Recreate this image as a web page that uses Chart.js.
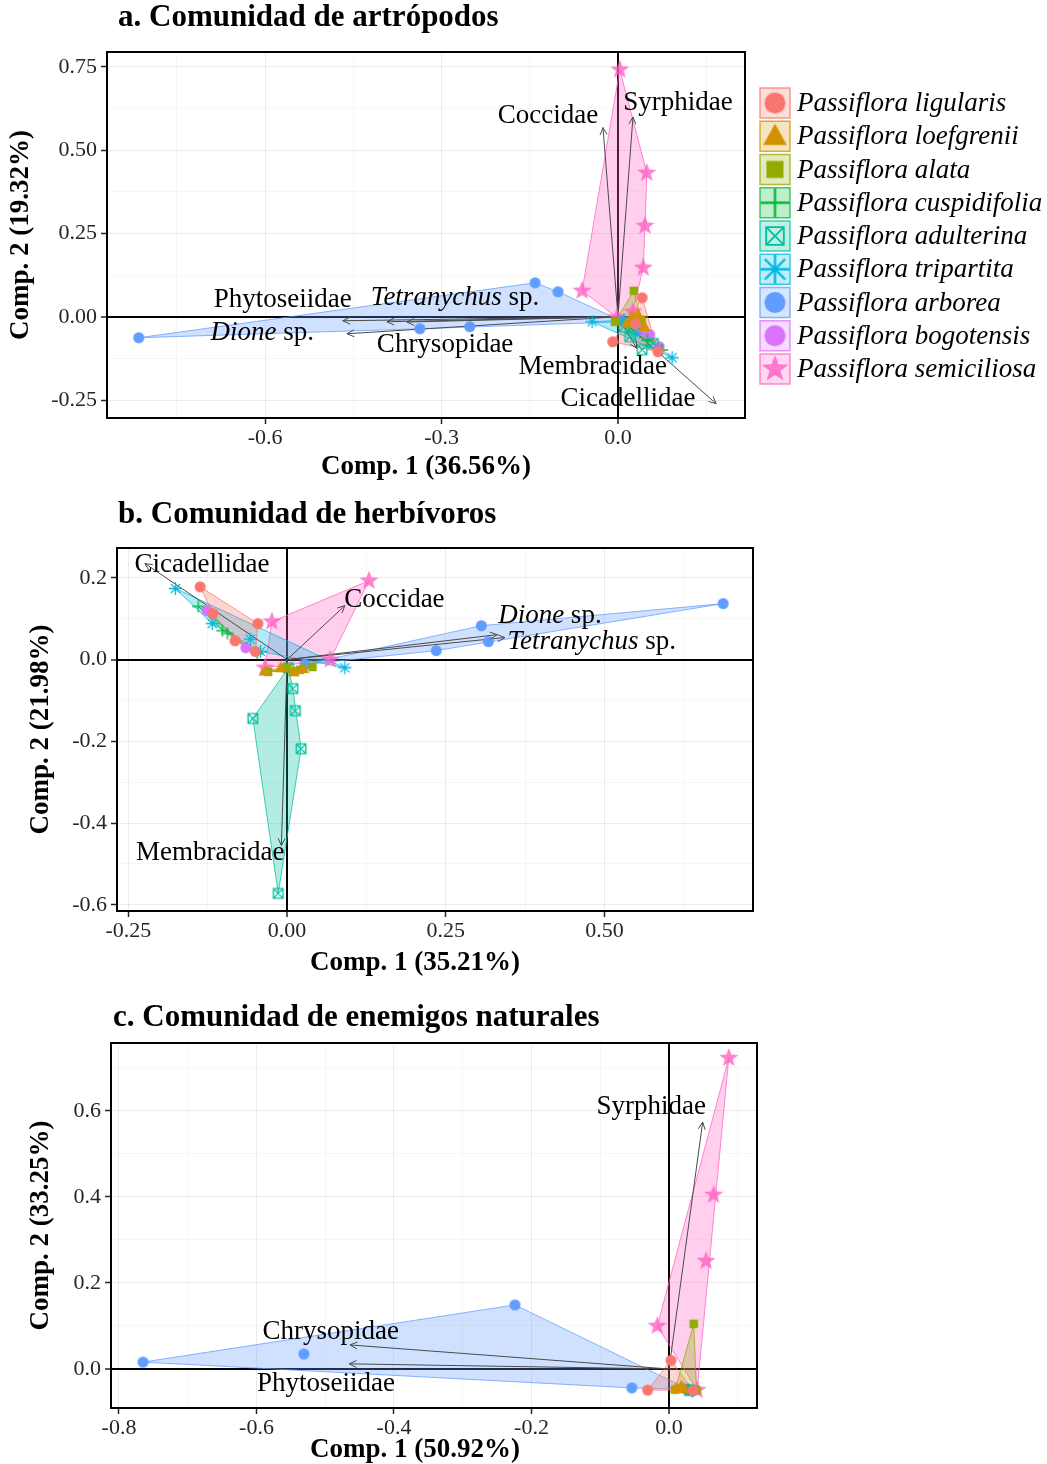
<!DOCTYPE html>
<html><head><meta charset="utf-8">
<script src="https://cdn.jsdelivr.net/npm/chart.js@4.4.1/dist/chart.umd.min.js"></script>
<style>
html,body{margin:0;padding:0;background:#fff;}
#wrap{position:relative;width:1047px;height:1464px;background:#fff;}
canvas{position:absolute;left:0;}
</style></head><body>
<div id="wrap">
<canvas id="ca" width="1047" height="490" style="top:0"></canvas>
<canvas id="cb" width="1047" height="490" style="top:490px"></canvas>
<canvas id="cc" width="1047" height="484" style="top:980px"></canvas>
</div>
<script>
const SERIF = '"Liberation Serif", "Times New Roman", serif';

// ---------- species ----------
const speciesKeys = ['ligularis','loefgrenii','alata','cuspidifolia','adulterina','tripartita','arborea','bogotensis','semiciliosa'];
const speciesNames = speciesKeys.map(k => 'Passiflora ' + k);
const speciesColors = ['#F8766D','#D39200','#93AA00','#00BA38','#00C19F','#00B9E3','#619CFF','#DB72FB','#FF61C3'];
const speciesShapes = ['circle','triangle','square','plus','squareX','asterisk','circle','circle','star'];

// ---------- a. Comunidad de artrópodos ----------
const artXTicks = ['-0.6','-0.3','0.0'];
const artYTicks = ['-0.25','0.00','0.25','0.50','0.75'];
const artPoints = [
 ['ligularis',0.041,0.057],['ligularis',-0.009,-0.075],['ligularis',0.068,-0.105],['ligularis',0.03,-0.02],
 ['loefgrenii',0.024,0.0],['loefgrenii',0.034,0.006],['loefgrenii',0.045,-0.03],['loefgrenii',0.015,-0.02],
 ['alata',0.027,0.078],['alata',-0.005,-0.015],['alata',0.04,-0.01],
 ['cuspidifolia',0.02,-0.03],['cuspidifolia',0.075,-0.1],['cuspidifolia',0.05,-0.07],['cuspidifolia',0.035,-0.02],
 ['adulterina',0.041,-0.099],['adulterina',0.02,-0.06],['adulterina',0.06,-0.08],['adulterina',0.01,-0.03],
 ['tripartita',-0.044,-0.015],['tripartita',0.092,-0.123],['tripartita',0.03,-0.05],['tripartita',0.01,-0.01],
 ['arborea',-0.815,-0.063],['arborea',-0.141,0.102],['arborea',-0.102,0.075],['arborea',-0.337,-0.036],['arborea',-0.252,-0.030],['arborea',0.009,-0.015],
 ['bogotensis',0.054,-0.054],['bogotensis',0.07,-0.09],['bogotensis',0.04,-0.04],
 ['semiciliosa',0.003,0.742],['semiciliosa',0.049,0.432],['semiciliosa',0.046,0.273],['semiciliosa',0.043,0.147],['semiciliosa',-0.061,0.078],['semiciliosa',-0.002,-0.002],['semiciliosa',0.025,0.015]
];
const artArrows = [
 ['Coccidae',-0.0255,0.568],['Syrphidae',0.0255,0.60],['Phytoseiidae',-0.468,-0.012],['Tetranychus sp.',-0.393,-0.015],
 ['Chrysopidae',-0.359,-0.016],['Dione sp.',-0.461,-0.051],['Membracidae',0.032,-0.095],['Cicadellidae',0.167,-0.261]
];
const artLabelAt = [[-0.119,0.604],[0.102,0.643],[-0.570,0.051],[-0.277,0.057],[-0.294,-0.084],[-0.605,-0.048],[-0.043,-0.150],[0.017,-0.246]];

// ---------- b. Comunidad de herbívoros ----------
const herbXTicks = ['-0.25','0.00','0.25','0.50'];
const herbYTicks = ['-0.6','-0.4','-0.2','0.0','0.2'];
const herbPoints = [
 ['arborea',0.687,0.137],['arborea',0.306,0.083],['arborea',0.317,0.044],['arborea',0.235,0.022],['arborea',0.028,-0.012],
 ['semiciliosa',0.129,0.193],['semiciliosa',-0.024,0.093],['semiciliosa',0.068,0.0],['semiciliosa',-0.035,-0.02],
 ['ligularis',-0.137,0.178],['ligularis',-0.046,0.088],['ligularis',-0.082,0.046],['ligularis',-0.117,0.113],['ligularis',-0.05,0.02],
 ['tripartita',-0.176,0.174],['tripartita',-0.118,0.088],['tripartita',-0.058,0.05],['tripartita',0.091,-0.02],['tripartita',-0.042,0.02],
 ['cuspidifolia',-0.14,0.13],['cuspidifolia',-0.094,0.064],['cuspidifolia',-0.047,0.015],['cuspidifolia',-0.102,0.071],
 ['bogotensis',-0.126,0.12],['bogotensis',-0.065,0.029],
 ['adulterina',0.009,-0.071],['adulterina',0.013,-0.125],['adulterina',0.022,-0.218],['adulterina',-0.054,-0.144],['adulterina',-0.014,-0.572],['adulterina',0.002,-0.02],
 ['alata',-0.03,-0.03],['alata',0.0,-0.02],['alata',0.04,-0.018],['alata',0.02,-0.025],
 ['loefgrenii',-0.035,-0.028],['loefgrenii',-0.01,-0.02],['loefgrenii',0.025,-0.022],['loefgrenii',0.01,-0.03]
];
const herbArrows = [
 ['Cicadellidae',-0.224,0.235],['Coccidae',0.091,0.132],['Dione sp.',0.331,0.061],['Tetranychus sp.',0.343,0.054],['Membracidae',-0.009,-0.455]
];
const herbLabelAt = [[-0.134,0.232],[0.169,0.147],[0.414,0.108],[0.480,0.044],[-0.121,-0.472]];

// ---------- c. Comunidad de enemigos naturales ----------
const enemXTicks = ['-0.8','-0.6','-0.4','-0.2','0.0'];
const enemYTicks = ['0.0','0.2','0.4','0.6'];
const enemPoints = [
 ['arborea',-0.765,0.016],['arborea',-0.531,0.035],['arborea',-0.224,0.149],['arborea',-0.054,-0.044],['arborea',0.028,-0.047],
 ['semiciliosa',0.087,0.723],['semiciliosa',0.065,0.405],['semiciliosa',0.054,0.251],['semiciliosa',-0.017,0.1],['semiciliosa',0.041,-0.049],
 ['ligularis',-0.031,-0.049],['ligularis',0.035,-0.05],['ligularis',0.003,0.02],
 ['alata',0.036,0.105],['alata',0.04,-0.049],['alata',0.009,-0.048],
 ['loefgrenii',0.01,-0.045],['loefgrenii',0.022,-0.046],['loefgrenii',0.018,-0.04],
 ['cuspidifolia',0.033,-0.05],['cuspidifolia',0.028,-0.048],
 ['adulterina',0.03,-0.05],
 ['tripartita',0.035,-0.05],
 ['bogotensis',0.025,-0.047]
];
const enemArrows = [['Syrphidae',0.049,0.574],['Chrysopidae',-0.464,0.056],['Phytoseiidae',-0.465,0.012]];
const enemLabelAt = [[-0.026,0.609],[-0.492,0.086],[-0.499,-0.035]];

// ---------- helpers ----------
function rgba(hex, a){ const n=parseInt(hex.slice(1),16); return `rgba(${(n>>16)&255},${(n>>8)&255},${n&255},${a})`; }

function makeShape(shape, color, size, alpha){
  const pad=3, S=Math.ceil(size)+pad*2;
  const c=document.createElement('canvas'); c.width=S; c.height=S;
  const g=c.getContext('2d'); const m=S/2, r=size/2;
  g.globalAlpha=alpha; g.fillStyle=color; g.strokeStyle=color;
  g.lineWidth=Math.max(1.3,size/12);
  g.beginPath();
  if(shape==='circle'){ g.arc(m,m,r,0,Math.PI*2); g.fill(); }
  else if(shape==='triangle'){ g.moveTo(m,m-r); g.lineTo(m+r*0.95,m+r*0.7); g.lineTo(m-r*0.95,m+r*0.7); g.closePath(); g.fill(); }
  else if(shape==='square'){ g.rect(m-r*0.85,m-r*0.85,r*1.7,r*1.7); g.fill(); }
  else if(shape==='plus'){ g.moveTo(m-r,m); g.lineTo(m+r,m); g.moveTo(m,m-r); g.lineTo(m,m+r); g.stroke(); }
  else if(shape==='squareX'){ const h=r*0.8; g.rect(m-h,m-h,2*h,2*h); g.moveTo(m-h,m-h); g.lineTo(m+h,m+h); g.moveTo(m+h,m-h); g.lineTo(m-h,m+h); g.stroke(); }
  else if(shape==='asterisk'){ for(let k=0;k<4;k++){ const a=k*Math.PI/4; g.moveTo(m-r*Math.cos(a),m-r*Math.sin(a)); g.lineTo(m+r*Math.cos(a),m+r*Math.sin(a)); } g.stroke(); }
  else if(shape==='star'){ for(let k=0;k<10;k++){ const rr=k%2?r*0.42:r; const a=-Math.PI/2+k*Math.PI/5; const px=m+rr*Math.cos(a), py=m+rr*Math.sin(a); k?g.lineTo(px,py):g.moveTo(px,py);} g.closePath(); g.fill(); }
  return c;
}
const plotSizes = {circle:11,triangle:13,square:10,plus:12,squareX:12,asterisk:13,star:20};
const legendSizes = {circle:21,triangle:25,square:20,plus:29,squareX:22,asterisk:29,star:28};
const plotImgs = speciesKeys.map((k,i)=>makeShape(speciesShapes[i],speciesColors[i],plotSizes[speciesShapes[i]], speciesShapes[i]==='star'?0.8:1));
const legendImgs = speciesKeys.map((k,i)=>makeShape(speciesShapes[i],speciesColors[i],legendSizes[speciesShapes[i]], speciesShapes[i]==='star'?0.8:1));

function convexHull(pts){
  const p=pts.slice().sort((a,b)=>a.x-b.x||a.y-b.y);
  if(p.length<3) return p;
  const cr=(o,a,b)=>(a.x-o.x)*(b.y-o.y)-(a.y-o.y)*(b.x-o.x);
  const lo=[]; for(const q of p){ while(lo.length>=2&&cr(lo[lo.length-2],lo[lo.length-1],q)<=0) lo.pop(); lo.push(q); }
  const up=[]; for(let i=p.length-1;i>=0;i--){ const q=p[i]; while(up.length>=2&&cr(up[up.length-2],up[up.length-1],q)<=0) up.pop(); up.push(q); }
  up.pop(); lo.pop(); return lo.concat(up);
}

function buildDatasets(points, arrows){
  const ds=[];
  speciesKeys.forEach((k,i)=>{
    const pts=points.filter(p=>p[0]===k).map(p=>({x:p[1],y:p[2]}));
    if(pts.length>=2){
      const h=convexHull(pts); h.push(h[0]);
      ds.push({type:'line',data:h,fill:'shape',backgroundColor:rgba(speciesColors[i],0.3),borderColor:rgba(speciesColors[i],0.75),borderWidth:1,pointRadius:0,tension:0,order:30});
    }
  });
  arrows.forEach(a=>ds.push({type:'line',data:[{x:0,y:0},{x:a[1],y:a[2]}],borderColor:'#4a4a4a',borderWidth:1,pointRadius:0,fill:false,tension:0,order:20}));
  speciesKeys.forEach((k,i)=>{
    const pts=points.filter(p=>p[0]===k).map(p=>({x:p[1],y:p[2]}));
    ds.push({type:'scatter',label:speciesNames[i],data:pts,pointStyle:plotImgs[i],pointRadius:5,order:10});
  });
  return ds;
}

function minorValues(majors,min,max){
  const step=majors[1]-majors[0]; const out=[];
  let v=majors[0]-step/2; while(v-step>=min) v-=step;
  for(;v<=max+1e-9;v+=step) if(v>=min) out.push(+v.toFixed(6));
  return out;
}

function axis(pos, labels, range, title, fitSize, titlePad){
  const majors=labels.map(Number);
  const minors=minorValues(majors,range[0],range[1]);
  const isZero=c=>c.tick&&Math.abs(c.tick.value)<1e-9;
  return {
    type:'linear', position:pos, min:range[0], max:range[1],
    afterBuildTicks:s=>{ s.ticks=majors.map(v=>({value:v})).concat(minors.map(v=>({value:v,minor:true}))).sort((a,b)=>a.value-b.value); },
    afterFit:s=>{ if(pos==='bottom') s.height=fitSize; else s.width=fitSize; },
    ticks:{autoSkip:false,maxRotation:0,minRotation:0,padding:pos==='bottom'?1:4,color:'#262626',font:{family:SERIF,size:22},
      callback:v=>{ const i=majors.findIndex(m=>Math.abs(m-v)<1e-9); return i>=0?labels[i]:''; }},
    grid:{drawOnChartArea:true,drawTicks:true,tickLength:6,tickWidth:1.5,
      color:c=>{ if(!c.tick) return 'rgba(0,0,0,0)'; if(isZero(c)) return '#000'; return c.tick.minor?'rgba(0,0,0,0.035)':'rgba(0,0,0,0.075)'; },
      lineWidth:c=>isZero(c)?2:1,
      tickColor:c=>(c.tick&&!c.tick.minor)?'#262626':'rgba(0,0,0,0)'},
    border:{display:false},
    title:{display:pos!=='bottom',text:title,color:'#000',font:{family:SERIF,size:27,weight:'bold',lineHeight:1},
      padding:{top:titlePad,bottom:0}}
  };
}

function drawLabel(ctx,text,px,py,size){
  const m=text.match(/^(.*) (sp\.)$/);
  const parts=m?[[m[1],'italic'],[' sp.','normal']]:[[text,'normal']];
  let w=0; parts.forEach(p=>{ ctx.font=`${p[1]} ${size}px ${SERIF}`; p.w=ctx.measureText(p[0]).width; w+=p.w; });
  let x=px-w/2;
  parts.forEach(p=>{ ctx.font=`${p[1]} ${size}px ${SERIF}`; ctx.fillText(p[0],x,py); x+=p.w; });
}

function drawLegend(ctx){
  ctx.save();
  speciesKeys.forEach((k,i)=>{
    const cy=103+i*33.25, bx=760, bs=30;
    ctx.fillStyle=rgba(speciesColors[i],0.25); ctx.fillRect(bx,cy-bs/2,bs,bs);
    ctx.strokeStyle=rgba(speciesColors[i],0.75); ctx.lineWidth=1.5; ctx.strokeRect(bx,cy-bs/2,bs,bs);
    const img=legendImgs[i]; ctx.drawImage(img,bx+bs/2-img.width/2,cy-img.height/2);
    ctx.fillStyle='#000'; ctx.textBaseline='middle'; ctx.textAlign='left';
    ctx.font=`italic 27px ${SERIF}`; ctx.fillText(speciesNames[i],797,cy+1);
  });
  ctx.restore();
}

function biplotPlugin(o){
  return {
    id:'biplot',
    afterDatasetsDraw(chart){
      const {ctx,chartArea:ca,scales:{x,y}}=chart;
      const ox=x.getPixelForValue(0), oy=y.getPixelForValue(0);
      ctx.save();
      ctx.beginPath(); ctx.rect(ca.left,ca.top,ca.right-ca.left,ca.bottom-ca.top); ctx.clip();
      ctx.strokeStyle='#4a4a4a'; ctx.lineWidth=1;
      o.arrows.forEach(a=>{
        const tx=x.getPixelForValue(a[1]), ty=y.getPixelForValue(a[2]);
        const ang=Math.atan2(ty-oy,tx-ox), L=8, w=Math.PI/7;
        ctx.beginPath();
        ctx.moveTo(tx-L*Math.cos(ang-w),ty-L*Math.sin(ang-w)); ctx.lineTo(tx,ty);
        ctx.lineTo(tx-L*Math.cos(ang+w),ty-L*Math.sin(ang+w)); ctx.stroke();
      });
      ctx.restore();
      ctx.save(); ctx.fillStyle='#000'; ctx.textBaseline='middle'; ctx.textAlign='left';
      o.arrows.forEach((a,i)=>drawLabel(ctx,a[0],x.getPixelForValue(o.labelAt[i][0]),y.getPixelForValue(o.labelAt[i][1]),27));
      ctx.restore();
    },
    afterDraw(chart){
      const {ctx,chartArea:ca}=chart;
      ctx.save();
      ctx.strokeStyle='#000'; ctx.lineWidth=2; ctx.strokeRect(ca.left,ca.top,ca.right-ca.left,ca.bottom-ca.top);
      ctx.fillStyle='#000'; ctx.textBaseline='middle'; ctx.textAlign='left';
      ctx.font=`bold 31px ${SERIF}`; ctx.fillText(o.title,o.titleXY[0],o.titleXY[1]);
      ctx.textAlign='center';
      ctx.font=`bold 27px ${SERIF}`; ctx.fillText(o.xTitle,o.xTitleXY[0],o.xTitleXY[1]);
      ctx.restore();
      if(o.legend) drawLegend(ctx);
    }
  };
}

function makeChart(id,o){
  return new Chart(document.getElementById(id),{
    type:'scatter',
    data:{datasets:buildDatasets(o.points,o.arrows)},
    options:{responsive:false,animation:false,events:[],
      layout:{padding:o.pad},
      plugins:{legend:{display:false},tooltip:{enabled:false}},
      scales:{x:axis('bottom',o.xTicks,o.xRange,o.xTitle,o.xFit,0),
              y:axis('left',o.yTicks,o.yRange,o.yTitle,o.yFit,o.yTitlePad)}},
    plugins:[biplotPlugin(o)]
  });
}

makeChart('ca',{points:artPoints,arrows:artArrows,labelAt:artLabelAt,xTicks:artXTicks,yTicks:artYTicks,
  xRange:[-0.869,0.216],yRange:[-0.304,0.795],xTitle:'Comp. 1 (36.56%)',yTitle:'Comp. 2 (19.32%)',
  pad:{left:0,top:52,right:302,bottom:0},xFit:72,yFit:107,yTitlePad:8,xTitleXY:[426,467],
  title:'a. Comunidad de artrópodos',titleXY:[118,18],legend:true});
makeChart('cb',{points:herbPoints,arrows:herbArrows,labelAt:herbLabelAt,xTicks:herbXTicks,yTicks:herbYTicks,
  xRange:[-0.268,0.734],yRange:[-0.615,0.273],xTitle:'Comp. 1 (35.21%)',yTitle:'Comp. 2 (21.98%)',
  pad:{left:0,top:58,right:294,bottom:0},xFit:69,yFit:117,yTitlePad:28,xTitleXY:[415,473],
  title:'b. Comunidad de herbívoros',titleXY:[118,25],legend:false});
makeChart('cc',{points:enemPoints,arrows:enemArrows,labelAt:enemLabelAt,xTicks:enemXTicks,yTicks:enemYTicks,
  xRange:[-0.8116,0.128],yRange:[-0.0907,0.758],xTitle:'Comp. 1 (50.92%)',yTitle:'Comp. 2 (33.25%)',
  pad:{left:0,top:63,right:290,bottom:0},xFit:56,yFit:111,yTitlePad:28,xTitleXY:[415,470],
  title:'c. Comunidad de enemigos naturales',titleXY:[113,38],legend:false});
</script>
</body></html>
